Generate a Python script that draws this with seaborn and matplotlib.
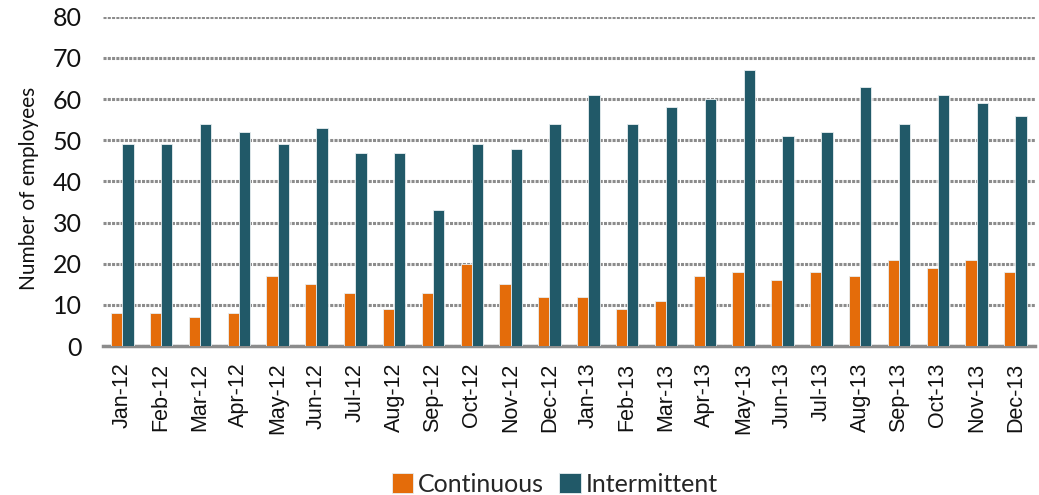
import matplotlib
matplotlib.use("Agg")
import matplotlib.pyplot as plt
import seaborn as sns
import pandas as pd

months = ["Jan-12", "Feb-12", "Mar-12", "Apr-12", "May-12", "Jun-12", "Jul-12", "Aug-12",
          "Sep-12", "Oct-12", "Nov-12", "Dec-12", "Jan-13", "Feb-13", "Mar-13", "Apr-13",
          "May-13", "Jun-13", "Jul-13", "Aug-13", "Sep-13", "Oct-13", "Nov-13", "Dec-13"]
continuous = [8, 8, 7, 8, 17, 15, 13, 9, 13, 20, 15, 12, 12, 9, 11, 17, 18, 16, 18, 17, 21, 19, 21, 18]
intermittent = [49, 49, 54, 52, 49, 53, 47, 47, 33, 49, 48, 54, 61, 54, 58, 60, 67, 51, 52, 63, 54, 61, 59, 56]
series_names = ["Continuous", "Intermittent"]
colors = ["#E46C0A", "#215968"]
yticks = [0, 10, 20, 30, 40, 50, 60, 70, 80]

df = pd.DataFrame({
    "Month": months * 2,
    "Series": [series_names[0]] * len(months) + [series_names[1]] * len(months),
    "Value": continuous + intermittent,
})

sns.set_theme(style="white")
plt.rcParams["font.family"] = ["Lato", "DejaVu Sans"]

fig = plt.figure(figsize=(10.39, 4.95), dpi=100)
ax = fig.add_axes([0.099, 0.301, 0.897, 0.665])

sns.barplot(data=df, x="Month", y="Value", hue="Series", palette=colors,
            order=months, hue_order=series_names, width=0.58, ax=ax,
            edgecolor="#e8eef0", linewidth=0.6, saturation=1, zorder=3, legend=True)

ax.set_ylim(0, 80)
ax.set_xlim(-0.5, len(months) - 0.5)
ax.set_yticks(yticks)
ax.set_yticklabels([str(t) for t in yticks], fontsize=18, color="#111111")
ax.yaxis.grid(True, color="#8c8c8c", linestyle=(0, (1, 0.4)), linewidth=2.2, zorder=0)
ax.xaxis.grid(False)
ax.set_axisbelow(True)
for s in ["top", "right", "left"]:
    ax.spines[s].set_visible(False)
ax.spines["bottom"].set_color("#8c8c8c")
ax.spines["bottom"].set_linewidth(2.5)
ax.tick_params(axis="both", length=0)
ax.tick_params(axis="y", pad=15)
ax.tick_params(axis="x", pad=12)
ax.set_xticks(range(len(months)))
ax.set_xticklabels(months, rotation=90, fontsize=15.5, family="Liberation Sans", color="#111111")
ax.set_xlabel("")
ax.set_ylabel("Number of employees", fontsize=15, color="#111111")
ax.yaxis.set_label_coords(-0.069, 0.48)

handles, labels = ax.get_legend_handles_labels()
ax.get_legend().remove()
fig.legend(handles, labels, loc="center", bbox_to_anchor=(0.534, 0.022), ncol=2, frameon=False,
           fontsize=18, handlelength=0.85, handleheight=0.85, handletextpad=0.2,
           columnspacing=0.6)

fig.savefig("out.png", dpi=100)
